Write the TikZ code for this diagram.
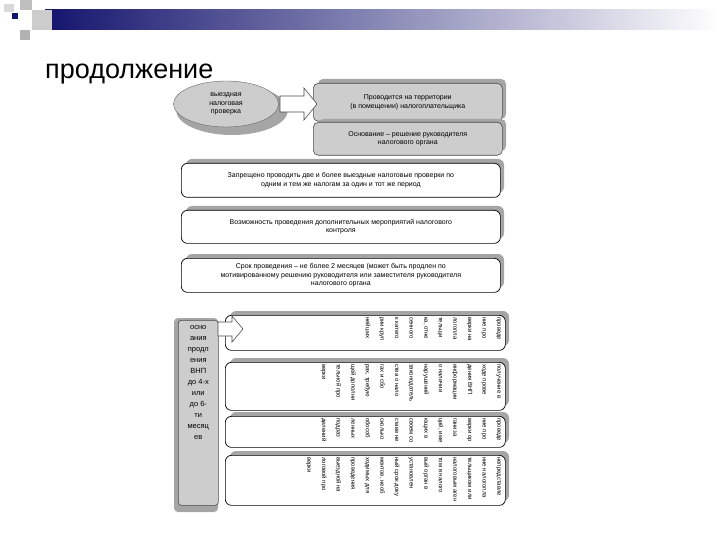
\documentclass[tikz,border=0pt]{standalone}
\usepackage{fontspec}
\setmainfont{Liberation Sans}
\usetikzlibrary{shapes.geometric}
\definecolor{navy}{RGB}{20,20,110}
\definecolor{boxgray}{RGB}{205,205,205}
\definecolor{shad}{RGB}{165,165,165}
\tikzset{
  gbox/.style={draw=black!70,fill=boxgray,rounded corners=5pt,line width=0.6pt},
  wbox/.style={draw=black,fill=white,rounded corners=6pt,line width=0.7pt},
  txt/.style={font=\fontsize{7}{8.5}\selectfont,align=center},
  vtxt/.style={font=\fontsize{6}{14.6}\selectfont,rotate=-90,align=left,anchor=north west,inner sep=0pt},
  barrow/.style={draw=black!70,fill=white,line width=0.6pt}
}
\begin{document}
\begin{tikzpicture}[x=1pt,y=-1pt]
\useasboundingbox (0,0) rectangle (720,540);
% header
\shade[left color=navy,right color=white] (45,10) rectangle (720,30);
\fill[black!25] (20,0) rectangle (32,10);
\fill[black!20] (32,10) rectangle (52,30);
\fill[black!30] (20,30) rectangle (30,40);
\fill[black!15] (4,4) rectangle (14,12);
\node[draw=white,fill=navy,minimum size=7pt,inner sep=0pt] (sq) at (15,16) {};
\node[anchor=base west,font=\fontsize{27}{30}\selectfont,inner sep=0pt] (title) at (45,79) {продолжение};
% ellipse
\fill[shad] (232,110) ellipse (56 and 25);
\node[ellipse,draw=black!60,fill=boxgray,minimum width=105pt,minimum height=46pt,txt] (ell) at (226,104) {выездная\\налоговая\\проверка};
% top boxes
\fill[shad,rounded corners=5pt] (318,79) rectangle (506,119);
\node[gbox,minimum width=189pt,minimum height=38pt,txt,anchor=north west] (a) at (313,83) {Проводится на территории\\(в помещении) налогоплательщика};
\fill[shad,rounded corners=5pt] (318,119) rectangle (506,151);
\node[gbox,minimum width=189pt,minimum height=33pt,txt,anchor=north west] (b) at (313,122) {Основание – решение руководителя\\налогового органа};
\draw[barrow] (280,96) -- (304,96) -- (304,88) -- (317,104) -- (304,120) -- (304,112) -- (280,112) -- cycle;
% white boxes
\foreach \y/\h in {163/34,210/33,258/34}{\fill[shad,rounded corners=6pt] (186,\y-4) rectangle (504,\y+\h-4);}
\node[wbox,minimum width=319pt,minimum height=34pt,txt,anchor=north west] (c) at (181,163) {Запрещено проводить две и более выездные налоговые проверки по\\одним и тем же налогам за один и тот же период};
\node[wbox,minimum width=319pt,minimum height=33pt,txt,anchor=north west] (d) at (181,210) {Возможность проведения дополнительных мероприятий налогового\\контроля};
\node[wbox,minimum width=319pt,minimum height=34pt,txt,anchor=north west] (e) at (181,258) {Срок проведения – не более 2 месяцев (может быть продлен по\\мотивированному решению руководителя или заместителя руководителя\\налогового органа};
% left tall box
\fill[shad,rounded corners=4pt] (174,318) rectangle (218,512);
\node[gbox,rounded corners=3pt,minimum width=40pt,minimum height=185pt,anchor=north west,inner sep=0pt] (l) at (178,320) {};
\node[font=\fontsize{7.5}{11}\selectfont,align=center,anchor=north] (lt) at ([yshift=-2pt]l.north) {осно\\ания\\продл\\ения\\ВНП\\до 4-х\\или\\до 6-\\ти\\месяц\\ев};
% right boxes
\foreach \y/\h in {315/35,362/48,416/31,455/50}{\fill[shad,rounded corners=6pt] (230,\y-4) rectangle (509,\y+\h-4);}
\node[wbox,minimum width=280pt,minimum height=35pt,anchor=north west] (f) at (225,315) {};
\node[wbox,minimum width=280pt,minimum height=48pt,anchor=north west] (g) at (225,362) {};
\node[wbox,minimum width=280pt,minimum height=31pt,anchor=north west] (h) at (225,416) {};
\node[wbox,minimum width=280pt,minimum height=50pt,anchor=north west] (i) at (225,455) {};
\node[vtxt] (ft) at ([xshift=-5pt,yshift=-2pt]f.north east) {проведе\\ние про\\верки на\\логопла\\тельщи\\ка, отне\\сенного\\к катего\\рии круп\\нейших};
\node[vtxt] (gt) at ([xshift=-5pt,yshift=-2pt]g.north east) {получение в\\ходе прове\\дения ВНП\\информации\\о наличии\\нарушений\\законодатель\\ства о нало\\гах и сбо\\рах, требую\\щей дополни\\тельной про\\верки};
\node[vtxt] (ht) at ([xshift=-5pt,yshift=-2pt]h.north east) {проведе\\ние про\\верки ор\\ганиза\\ций, име\\ющих в\\своем со\\ставе не\\сколько\\обособ\\ленных\\подраз\\делений};
\node[vtxt] (it) at ([xshift=-5pt,yshift=-2pt]i.north east) {непредставле\\ние налогопла\\тельщиком или\\налоговым аген\\том в налого\\вый орган в\\установлен\\ный срок доку\\ментов, необ\\ходимых для\\проведения\\выездной на\\логовой про\\верки};
\draw[barrow] (218,322) -- (232,322) -- (232,316) -- (243,329) -- (232,342) -- (232,336) -- (218,336) -- cycle;
\end{tikzpicture}
\end{document}
